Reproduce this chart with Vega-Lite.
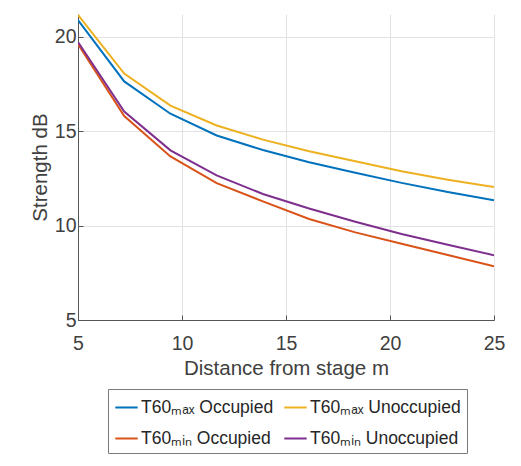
{
  "$schema": "https://vega.github.io/schema/vega-lite/v6.json",
  "autosize": {"type": "none"},
  "width": 416,
  "height": 306,
  "padding": {"left": 78, "top": 14, "right": 27, "bottom": 146},
  "background": "white",
  "config": {
    "font": "Liberation Sans",
    "view": {"stroke": null},
    "axis": {
      "labelFont": "Liberation Sans",
      "titleFont": "Liberation Sans",
      "labelFontSize": 19.5,
      "titleFontSize": 20.5,
      "labelColor": "#404040",
      "titleColor": "#404040",
      "titleFontWeight": "normal",
      "domainColor": "#555555",
      "tickColor": "#555555",
      "tickSize": -5,
      "gridColor": "#e3e3e3",
      "gridWidth": 1,
      "labelFlush": false,
      "labelOverlap": false
    },
    "legend": {
      "labelFont": "Liberation Sans",
      "labelFontSize": 17.5,
      "labelColor": "#262626"
    }
  },
  "data": {
    "values": [
      {"series": "T60ₘₐₓ Occupied", "x": 5, "y": 20.88},
      {"series": "T60ₘₐₓ Occupied", "x": 7.222, "y": 17.63},
      {"series": "T60ₘₐₓ Occupied", "x": 9.444, "y": 15.92},
      {"series": "T60ₘₐₓ Occupied", "x": 11.667, "y": 14.77},
      {"series": "T60ₘₐₓ Occupied", "x": 13.889, "y": 14.0},
      {"series": "T60ₘₐₓ Occupied", "x": 16.111, "y": 13.35},
      {"series": "T60ₘₐₓ Occupied", "x": 18.333, "y": 12.8},
      {"series": "T60ₘₐₓ Occupied", "x": 20.556, "y": 12.26},
      {"series": "T60ₘₐₓ Occupied", "x": 22.778, "y": 11.78},
      {"series": "T60ₘₐₓ Occupied", "x": 25, "y": 11.34},
      {"series": "T60ₘₐₓ Unoccupied", "x": 5, "y": 21.15},
      {"series": "T60ₘₐₓ Unoccupied", "x": 7.222, "y": 18.05},
      {"series": "T60ₘₐₓ Unoccupied", "x": 9.444, "y": 16.35},
      {"series": "T60ₘₐₓ Unoccupied", "x": 11.667, "y": 15.3},
      {"series": "T60ₘₐₓ Unoccupied", "x": 13.889, "y": 14.55},
      {"series": "T60ₘₐₓ Unoccupied", "x": 16.111, "y": 13.93},
      {"series": "T60ₘₐₓ Unoccupied", "x": 18.333, "y": 13.4},
      {"series": "T60ₘₐₓ Unoccupied", "x": 20.556, "y": 12.88},
      {"series": "T60ₘₐₓ Unoccupied", "x": 22.778, "y": 12.43},
      {"series": "T60ₘₐₓ Unoccupied", "x": 25, "y": 12.04},
      {"series": "T60ₘᵢₙ Occupied", "x": 5, "y": 19.6},
      {"series": "T60ₘᵢₙ Occupied", "x": 7.222, "y": 15.8},
      {"series": "T60ₘᵢₙ Occupied", "x": 9.444, "y": 13.66},
      {"series": "T60ₘᵢₙ Occupied", "x": 11.667, "y": 12.25},
      {"series": "T60ₘᵢₙ Occupied", "x": 13.889, "y": 11.28},
      {"series": "T60ₘᵢₙ Occupied", "x": 16.111, "y": 10.35},
      {"series": "T60ₘᵢₙ Occupied", "x": 18.333, "y": 9.64},
      {"series": "T60ₘᵢₙ Occupied", "x": 20.556, "y": 9.04},
      {"series": "T60ₘᵢₙ Occupied", "x": 22.778, "y": 8.44},
      {"series": "T60ₘᵢₙ Occupied", "x": 25, "y": 7.85},
      {"series": "T60ₘᵢₙ Unoccupied", "x": 5, "y": 19.72},
      {"series": "T60ₘᵢₙ Unoccupied", "x": 7.222, "y": 16.04},
      {"series": "T60ₘᵢₙ Unoccupied", "x": 9.444, "y": 13.98},
      {"series": "T60ₘᵢₙ Unoccupied", "x": 11.667, "y": 12.66},
      {"series": "T60ₘᵢₙ Unoccupied", "x": 13.889, "y": 11.67},
      {"series": "T60ₘᵢₙ Unoccupied", "x": 16.111, "y": 10.9},
      {"series": "T60ₘᵢₙ Unoccupied", "x": 18.333, "y": 10.2},
      {"series": "T60ₘᵢₙ Unoccupied", "x": 20.556, "y": 9.55},
      {"series": "T60ₘᵢₙ Unoccupied", "x": 22.778, "y": 8.98},
      {"series": "T60ₘᵢₙ Unoccupied", "x": 25, "y": 8.43}
    ]
  },
  "mark": {"type": "line", "strokeWidth": 2, "clip": true},
  "encoding": {
    "x": {
      "field": "x",
      "type": "quantitative",
      "scale": {"domain": [5, 25], "nice": false, "zero": false},
      "axis": {"values": [5, 10, 15, 20, 25], "title": "Distance from stage m", "labelPadding": 19, "titlePadding": 6}
    },
    "y": {
      "field": "y",
      "type": "quantitative",
      "scale": {"domain": [5, 21.2], "nice": false, "zero": false},
      "axis": {"values": [5, 10, 15, 20], "title": "Strength dB", "labelPadding": 7, "titlePadding": 4}
    },
    "color": {
      "field": "series",
      "type": "nominal",
      "scale": {
        "domain": ["T60ₘₐₓ Occupied", "T60ₘₐₓ Unoccupied", "T60ₘᵢₙ Occupied", "T60ₘᵢₙ Unoccupied"],
        "range": ["#0072BD", "#EDB120", "#D95319", "#7E2F8E"]
      },
      "legend": {
        "title": null,
        "orient": "none",
        "legendX": 30,
        "legendY": 375,
        "direction": "horizontal",
        "columns": 2,
        "symbolType": "stroke",
        "symbolSize": 500,
        "symbolStrokeWidth": 2,
        "strokeColor": "#7a7a7a",
        "fillColor": "white",
        "padding": 6,
        "rowPadding": 10,
        "columnPadding": 6,
        "labelOffset": 2
      }
    }
  }
}
